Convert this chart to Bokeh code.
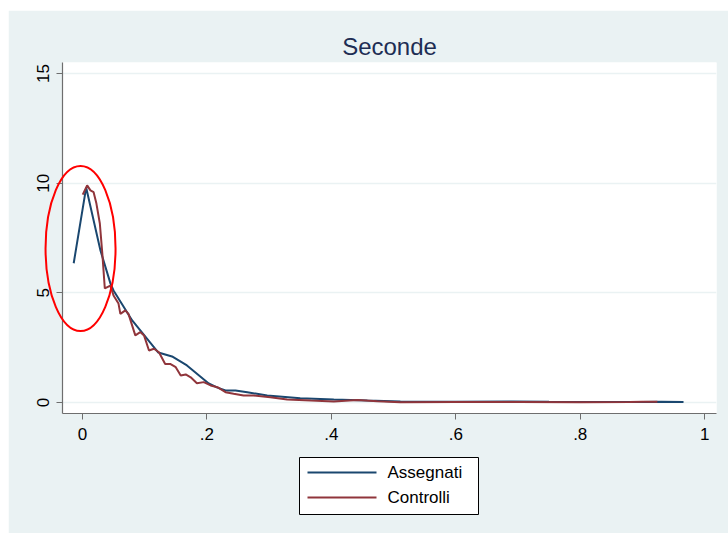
from bokeh.plotting import figure
from bokeh.models import Range1d, FixedTicker, Spacer
from bokeh.layouts import column, row
from bokeh.core.properties import value
from bokeh.embed import file_html
from bokeh.resources import INLINE

# ---- data ----
assegnati_x = [-0.014, 0.006, 0.029, 0.045, 0.050, 0.080, 0.122, 0.144, 0.168, 0.203,
               0.217, 0.230, 0.246, 0.265, 0.297, 0.350, 0.404, 0.458, 0.511, 0.60,
               0.69, 0.75, 0.80, 0.90, 0.93, 0.966]
assegnati_y = [6.35, 9.80, 6.93, 5.43, 5.11, 3.74, 2.28, 2.10, 1.69, 0.87,
               0.68, 0.55, 0.55, 0.47, 0.32, 0.20, 0.14, 0.09, 0.05, 0.03,
               0.05, 0.03, 0.02, 0.02, 0.04, 0.02]

controlli_x = [0.0005, 0.0076, 0.0129, 0.018, 0.0225, 0.028, 0.032, 0.036, 0.045, 0.050,
               0.058, 0.061, 0.069, 0.074, 0.085, 0.093, 0.099, 0.107, 0.115, 0.123,
               0.133, 0.141, 0.150, 0.158, 0.166, 0.174, 0.184, 0.195, 0.206, 0.217,
               0.230, 0.243, 0.259, 0.275, 0.302, 0.329, 0.367, 0.404, 0.442, 0.474,
               0.511, 0.60, 0.70, 0.80, 0.88, 0.90, 0.924]
controlli_y = [9.48, 9.90, 9.67, 9.59, 9.07, 8.16, 6.79, 5.20, 5.33, 4.88,
               4.51, 4.04, 4.20, 4.04, 3.06, 3.21, 3.06, 2.37, 2.45, 2.29,
               1.76, 1.76, 1.61, 1.23, 1.28, 1.15, 0.88, 0.93, 0.78, 0.70,
               0.47, 0.40, 0.32, 0.32, 0.24, 0.14, 0.09, 0.05, 0.12, 0.06,
               0.01, 0.02, 0.02, 0.01, 0.02, 0.04, 0.03]

x_ticks = [0, 0.2, 0.4, 0.6, 0.8, 1]
x_tick_labels = ["0", ".2", ".4", ".6", ".8", "1"]
y_ticks = [0, 5, 10, 15]
y_tick_labels = ["0", "5", "10", "15"]

series_names = ["Assegnati", "Controlli"]

# highlight ellipse (data units)
ell_cx, ell_cy, ell_w, ell_h = -0.003, 7.02, 0.1125, 7.52

BG = "#EAF2F3"
NAVY = "#1A476F"
MAROON = "#90353B"
FONT = "Liberation Sans"

# ---- geometry ----
W, H = 720, 523
BL, BR, BT, BB = 54, 12, 52, 120
X0, X1 = -0.032, 1.019
Y0, Y1 = -0.5, 15.5
FW, FH = W - BL - BR, H - BT - BB


def px2x(px):
    return X0 + (px - BL) / FW * (X1 - X0)


def py2y(py):
    return Y1 - (py - BT) / FH * (Y1 - Y0)


p = figure(width=W, height=H, output_backend="svg", toolbar_location=None,
           x_range=Range1d(X0, X1), y_range=Range1d(Y0, Y1),
           min_border_left=BL, min_border_right=BR, min_border_top=BT,
           min_border_bottom=BB)
p.background_fill_color = "white"
p.border_fill_color = BG
p.outline_line_color = None

p.title.text = "Seconde"
p.title.align = "center"
p.title.text_font = FONT
p.title.text_font_size = "24px"
p.title.text_font_style = "normal"
p.title.text_color = "#1E2D53"
p.title.standoff = 6

for ax in (p.xaxis[0], p.yaxis[0]):
    ax.axis_line_color = "#6E6E6E"
    ax.axis_line_width = 1.2
    ax.major_tick_line_color = "#6E6E6E"
    ax.major_tick_in = 0
    ax.major_tick_out = 6
    ax.minor_tick_line_color = None
    ax.major_label_text_font = FONT
    ax.major_label_text_font_size = "17px"
    ax.major_label_text_color = "black"
    ax.major_label_standoff = 8

p.xaxis.ticker = FixedTicker(ticks=x_ticks)
p.xaxis.major_label_overrides = {t: l for t, l in zip(x_ticks, x_tick_labels)}
p.yaxis.ticker = FixedTicker(ticks=y_ticks)
p.yaxis.major_label_overrides = {t: l for t, l in zip(y_ticks, y_tick_labels)}
p.yaxis.major_label_orientation = "vertical"

p.xgrid.grid_line_color = None
p.ygrid.grid_line_color = BG
p.ygrid.grid_line_width = 1.5

p.line(assegnati_x, assegnati_y, line_color=NAVY, line_width=2)
p.line(controlli_x, controlli_y, line_color=MAROON, line_width=2)

p.ellipse(x=[ell_cx], y=[ell_cy], width=[ell_w], height=[ell_h],
          fill_color=None, line_color="red", line_width=2, level="overlay")

# ---- legend below the plot (drawn at overlay level so it is not clipped) ----
box_l, box_r, box_t, box_b = 291, 470, 447, 504
row_y = [462, 487]
sample_l, sample_r, text_x = 299, 368, 379
colors = [NAVY, MAROON]

p.quad(left=[px2x(box_l)], right=[px2x(box_r)], top=[py2y(box_t)], bottom=[py2y(box_b)],
       fill_color="white", line_color="black", line_width=1, level="overlay")
p.segment(x0=[px2x(sample_l)] * 2, x1=[px2x(sample_r)] * 2,
          y0=[py2y(r) for r in row_y], y1=[py2y(r) for r in row_y],
          line_color=colors, line_width=2, level="overlay")
p.text(x=[px2x(text_x)] * 2, y=[py2y(r) for r in row_y], text=series_names,
       text_font=value(FONT), text_font_size="17px", text_color="black",
       text_baseline="middle", text_align="left", level="overlay")

layout = column(Spacer(height=10), row(Spacer(width=8), p))
open("out.html", "w").write(file_html(layout, INLINE))
